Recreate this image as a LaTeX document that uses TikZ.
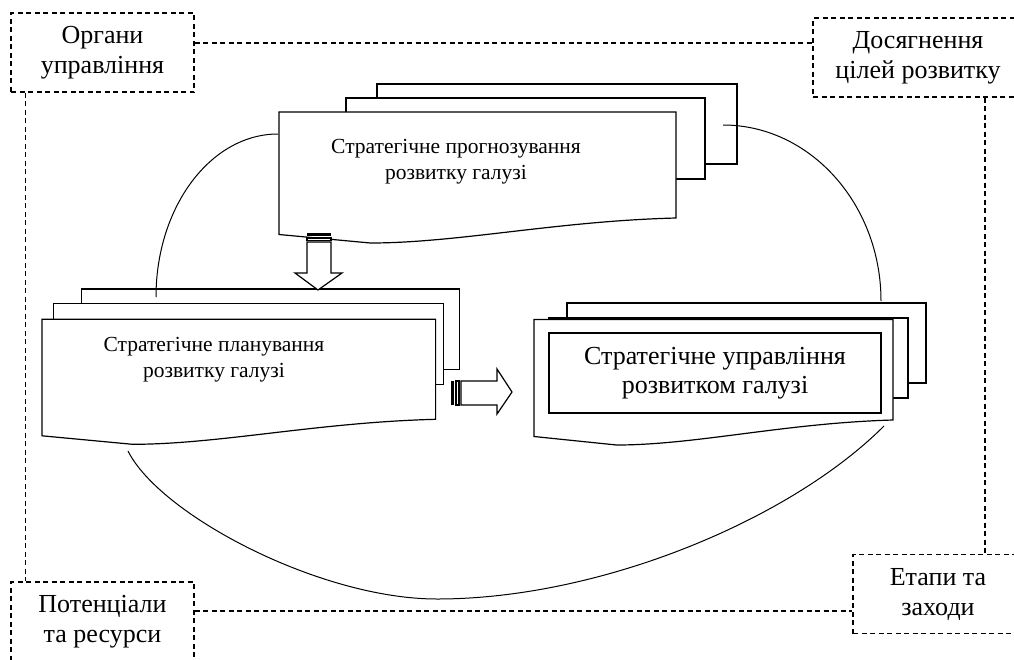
\documentclass[tikz,border=0pt]{standalone}
\usepackage{fontspec}
\setmainfont{Liberation Serif}
\usetikzlibrary{positioning}

% front sheet with a wavy lower edge: left, top, right, lower right
\newcommand{\docpage}[4]{%
  \draw[page] (#1,#2) -- (#3,#2) -- (#3,#4)
    .. controls ({#3-0.3*(#3-#1)},{#4+3}) and ({#1+0.45*(#3-#1)},{#4+25}) .. ({#1+0.23*(#3-#1)},{#4+25})
    -- (#1,{#4+16.5}) -- cycle;}

\begin{document}
\begin{tikzpicture}[x=1pt, y=-1pt,
    page/.style={draw, fill=white, line width=1.2pt},
    labelbox/.style={draw, line width=1.1pt, dash pattern=on 5pt off 3.5pt, minimum height=79pt, inner sep=0pt, align=center, font=\fontsize{26}{30}\selectfont},
    link/.style={line width=1.1pt, dash pattern=on 5pt off 3.5pt},
    doctext/.style={align=center, inner sep=0pt, font=\fontsize{21.5}{26}\selectfont},
    arc/.style={line width=1pt}
]
\useasboundingbox (0,0) rectangle (1014,659);

% outer labels
\node[labelbox, minimum width=183pt] (organy) at (102.5,52.5) {Органи\\управління};
\node[labelbox, minimum width=210pt] (dosyagn) at (918,57.5) {Досягнення\\цілей розвитку};
\node[labelbox, minimum width=183pt] (potents) at (102.5,621.5) {Потенціали\\та ресурси};
\node[labelbox, minimum width=170pt] (etapy) at (938,594) {Етапи та\\заходи};

\draw[link] ([yshift=9.5pt]organy.east) -- ([yshift=9.5pt]organy.east -| dosyagn.west);
\draw[link] ([xshift=15pt]organy.south west) -- ([xshift=15pt]organy.south west |- potents.north);
\draw[link] ([yshift=10.5pt]potents.east) -- ([yshift=10.5pt]potents.east -| etapy.west);
\draw[link] ([xshift=67pt]dosyagn.south) -- ([xshift=67pt]dosyagn.south |- etapy.north);

% forecasting
\draw[page] (377,84) rectangle (737,164);
\draw[page] (346,98) rectangle (705,179);
\docpage{279}{112}{676}{218}
\node[doctext] (prog) at (456,162) {Стратегічне прогнозування\\розвитку галузі};

% planning
\draw[page] (81.6,289) rectangle (459.7,369.3);
\draw[page] (53.4,303.3) rectangle (443.5,384.3);
\docpage{42}{319.3}{435.6}{419.3}
\node[doctext] (plan) at (214,360) {Стратегічне планування\\розвитку галузі};

% management
\draw[page] (567,303) rectangle (926,383);
\draw[page] (549,318) rectangle (908,398);
\docpage{534}{319.5}{893}{420}
\node[draw, line width=1.6pt, minimum width=332pt, minimum height=80pt, inner sep=0pt, align=center,
  font=\fontsize{26}{29}\selectfont] (upr) at (715,373) {Стратегічне управління\\розвитком галузі};

% striped arrows
\fill (307,233) rectangle (331,236);
\draw[page] (307,238) rectangle (331,240.5);
\draw[page] (307,242) -- (331,242) -- (331,273) -- (342,273) -- (318,290) -- (295,273) -- (307,273) -- cycle;
\fill (451,381) rectangle (454,405);
\draw[page] (456,381) rectangle (459,405);
\draw[page] (461,381) -- (497,381) -- (497,369) -- (512,392) -- (497,414) -- (497,405) -- (461,405) -- cycle;

% links between sheets
\coordinate (plan-n) at (156,297);
\coordinate (prog-w) at (278,134);
\coordinate (prog-e) at (723,125);
\coordinate (upr-n) at (881,301);
\coordinate (plan-s) at (128,451);
\coordinate (upr-s) at (884,426);
\draw[arc] (plan-n) .. controls (156,207) and (210.6,134) .. (prog-w);
\draw[arc] (prog-e) .. controls (810,125) and (881,204) .. (upr-n);
\draw[arc] (plan-s) .. controls (160,515) and (320,599) .. (437,599)
  .. controls (600,599) and (790,520) .. (upr-s);
\end{tikzpicture}
\end{document}
